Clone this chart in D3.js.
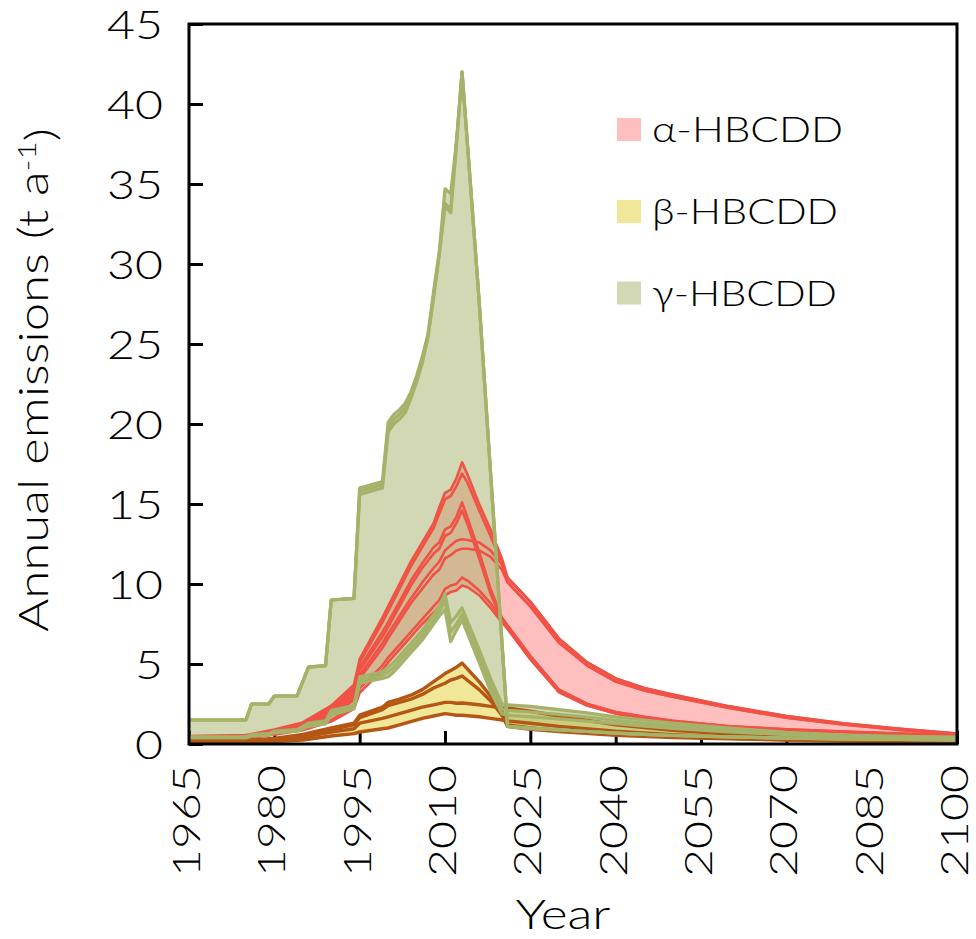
<!DOCTYPE html>
<html>
<head>
<meta charset="utf-8">
<script src="https://cdn.jsdelivr.net/npm/d3@7"></script>
<style>
  html, body { margin: 0; padding: 0; background: #fff; }
  svg { display: block; }
  text { font-family: Lato, "Open Sans", sans-serif; font-weight: 300; fill: #000; }
</style>
</head>
<body>
<svg id="chart" width="976" height="939"></svg>
<script>
// ---------- data ----------
const xTicks = [1965, 1980, 1995, 2010, 2025, 2040, 2055, 2070, 2085, 2100];
const yTicks = [0, 5, 10, 15, 20, 25, 30, 35, 40, 45];
const legendLabels = ["α-HBCDD", "β-HBCDD", "γ-HBCDD"];

// γ-HBCDD
const gYears = [1965,1975,1976,1979,1980,1984,1986,1989,1990,1994,1995,1999,2000,2001,2002,2003,2004,2005,2006,2007,2008,2009,2010,2011,2012,2013,2016,2018,2020,2021,2025,2030,2035,2040,2045,2050,2060,2070,2080,2090,2100];
const gHi1 = [1.5,1.5,2.5,2.5,3.0,3.0,4.8,4.9,9.0,9.1,16.0,16.4,20.1,20.6,20.9,21.3,22.0,23.0,24.2,25.6,28.3,30.8,34.7,34.4,37.6,42.0,27.7,17.0,6.4,1.1,0.98,0.88,0.78,0.68,0.6,0.53,0.45,0.37,0.32,0.28,0.25];
const gHi2 = [1.5,1.5,2.5,2.5,3.0,3.0,4.8,4.9,9.0,9.1,15.8,16.2,19.8,20.3,20.6,21.0,21.8,22.8,24.0,25.5,28.0,30.7,33.8,33.4,37.5,42.0,27.7,17.0,6.4,1.1,0.98,0.88,0.78,0.68,0.6,0.53,0.45,0.37,0.32,0.28,0.25];
const gHi3 = [1.5,1.5,2.5,2.5,3.0,3.0,4.8,4.9,9.0,9.1,15.6,16.0,19.5,20.0,20.3,20.7,21.6,22.6,23.8,25.4,27.9,30.6,33.6,33.2,37.4,42.0,27.7,17.0,6.4,1.1,0.98,0.88,0.78,0.68,0.6,0.53,0.45,0.37,0.32,0.28,0.25];
const gLo1 = [0.45,0.45,0.6,0.65,0.8,0.9,1.3,1.45,2.1,2.4,4.2,4.5,4.8,5.1,5.5,5.9,6.3,6.7,7.1,7.6,8.1,8.6,9.4,7.6,8.0,8.5,5.9,4.1,2.5,2.45,2.35,2.15,1.95,1.7,1.5,1.3,1.0,0.73,0.56,0.48,0.43];
const gLo2 = [0.42,0.42,0.55,0.6,0.75,0.85,1.2,1.35,1.95,2.3,4.0,4.3,4.5,4.8,5.2,5.6,6.0,6.4,6.8,7.3,7.8,8.3,8.9,7.0,7.5,8.1,5.5,3.7,2.2,2.1,2.0,1.85,1.68,1.48,1.3,1.13,0.87,0.65,0.5,0.43,0.38];
const gLo3 = [0.38,0.38,0.5,0.55,0.7,0.8,1.1,1.25,1.8,2.2,3.8,4.1,4.2,4.5,4.9,5.3,5.7,6.1,6.5,7.0,7.5,8.0,8.4,6.4,7.1,7.75,5.1,3.3,1.9,1.8,1.7,1.57,1.43,1.27,1.12,0.98,0.76,0.58,0.45,0.39,0.34];

// α-HBCDD
const rYears = [1965,1975,1980,1985,1990,1994,1995,1999,2000,2002,2004,2006,2008,2009,2010,2011,2012,2013,2014,2016,2018,2020,2021,2025,2030,2035,2040,2045,2050,2060,2070,2080,2090,2100];
const rA1 = [0.5,0.56,0.9,1.35,2.4,3.7,5.3,7.9,8.6,10.0,11.4,12.6,13.8,14.8,15.7,15.9,16.6,17.6,16.8,15.0,13.4,11.6,10.4,8.9,6.6,5.1,4.1,3.5,3.1,2.35,1.75,1.3,0.95,0.66];
const rA2 = [0.45,0.5,0.85,1.25,2.25,3.5,5.1,7.6,8.3,9.7,11.1,12.3,13.5,14.4,15.3,15.5,16.1,16.9,16.3,14.6,13.0,11.3,10.1,8.6,6.35,4.9,3.9,3.35,2.95,2.25,1.65,1.22,0.88,0.6];
const rB1 = [0.42,0.48,0.8,1.2,2.1,3.3,4.8,7.0,7.6,8.9,10.2,11.3,12.3,12.6,13.4,13.6,14.2,15.1,14.1,12.0,9.7,7.9,7.4,5.5,3.4,2.5,2.0,1.7,1.45,1.1,0.92,0.78,0.65,0.55];
const rB2 = [0.38,0.44,0.75,1.1,1.95,3.1,4.6,6.7,7.3,8.6,9.9,11.0,11.9,12.2,13.0,13.2,13.8,14.6,13.7,11.6,9.4,7.7,7.2,5.3,3.25,2.4,1.9,1.6,1.37,1.04,0.87,0.74,0.61,0.51];
const rC1 = [0.36,0.42,0.72,1.05,1.85,2.9,4.3,6.3,6.9,8.0,9.1,10.1,11.0,11.4,12.1,12.4,12.7,12.8,12.75,12.6,12.1,11.2,10.4,8.9,6.6,5.1,4.1,3.5,3.1,2.35,1.75,1.3,0.95,0.66];
const rC2 = [0.34,0.4,0.68,1.0,1.75,2.75,4.1,6.0,6.6,7.7,8.8,9.7,10.6,10.9,11.6,11.8,12.1,12.2,12.2,12.1,11.7,10.9,10.1,8.6,6.35,4.9,3.9,3.35,2.95,2.25,1.65,1.22,0.88,0.6];
const rD1 = [0.32,0.38,0.62,0.92,1.5,2.4,3.5,4.9,5.4,6.2,7.0,7.8,8.6,9.0,9.7,9.9,10.0,10.4,10.2,9.6,8.8,7.8,7.4,5.5,3.4,2.5,2.0,1.7,1.45,1.1,0.92,0.78,0.65,0.55];
const rD2 = [0.3,0.35,0.58,0.86,1.4,2.2,3.2,4.6,5.1,5.9,6.7,7.5,8.2,8.6,9.3,9.5,9.6,9.9,9.8,9.3,8.5,7.6,7.2,5.3,3.25,2.4,1.9,1.6,1.37,1.04,0.87,0.74,0.61,0.51];

// β-HBCDD
const bYears = [1965,1975,1980,1985,1990,1994,1995,1999,2000,2002,2004,2006,2008,2010,2011,2012,2013,2016,2018,2020,2021,2025,2030,2040,2050,2060,2070,2080,2090,2100];
const b1 = [0.2,0.22,0.35,0.6,1.0,1.3,1.8,2.3,2.6,2.8,3.05,3.4,3.9,4.4,4.6,4.8,5.06,3.9,3.0,2.0,1.2,1.0,0.85,0.6,0.45,0.35,0.27,0.21,0.17,0.14];
const b2 = [0.18,0.2,0.32,0.55,0.92,1.2,1.65,2.15,2.4,2.6,2.8,3.1,3.5,3.8,4.0,4.1,4.25,3.4,2.7,1.8,1.1,0.92,0.78,0.55,0.41,0.32,0.25,0.19,0.15,0.12];
const b3 = [0.14,0.15,0.25,0.42,0.75,0.95,1.3,1.6,1.7,1.9,2.1,2.3,2.45,2.6,2.6,2.55,2.56,2.45,2.35,2.25,2.25,2.05,1.75,1.2,0.85,0.62,0.47,0.36,0.28,0.22];
const b4 = [0.1,0.1,0.15,0.25,0.5,0.65,0.75,0.95,1.0,1.2,1.4,1.6,1.75,1.9,1.85,1.8,1.8,1.7,1.6,1.5,1.45,1.3,1.1,0.8,0.58,0.44,0.34,0.26,0.2,0.16];

// ---------- chart ----------
const svg = d3.select("#chart");
const x = d3.scaleLinear().domain([1965, 2100]).range([189, 957]);
const y = d3.scaleLinear().domain([0, 45]).range([744, 24]);

const colors = {
  redLine: "#f05245", pink: "#ffbfbf",
  brownLine: "#b55714", yellow: "#f0e898",
  greenLine: "#a5b269", greenFill: "rgba(165,178,103,0.5)", greenLegend: "#d2d8b3"
};

// axes (ticks inward)
const yAxis = d3.axisLeft(y).tickValues(yTicks).tickSize(-14).tickPadding(26);
const gy = svg.append("g").attr("transform", "translate(189,0)").call(yAxis);
gy.select(".domain").remove();
gy.selectAll(".tick line").attr("stroke", "#000").attr("stroke-width", 3);
gy.selectAll(".tick text").style("font-size", "39px").style("font-family", "Lato").style("font-weight", 300)
  .attr("fill", "#000").attr("dy", "0.36em")
  .attr("textLength", d => String(d).length * 28).attr("lengthAdjust", "spacingAndGlyphs");

const xAxis = d3.axisBottom(x).tickValues(xTicks).tickSize(-13).tickFormat(d3.format("d"));
const gx = svg.append("g").attr("transform", "translate(0,744)").call(xAxis);
gx.select(".domain").remove();
gx.selectAll(".tick line").attr("stroke", "#000").attr("stroke-width", 3);
gx.selectAll(".tick text").style("font-size", "37px").style("font-family", "Lato").style("font-weight", 300)
  .attr("fill", "#000")
  .attr("transform", "rotate(-90)").attr("x", -21).attr("y", 0).attr("dy", "0.28em")
  .style("text-anchor", "end")
  .attr("textLength", 112).attr("lengthAdjust", "spacingAndGlyphs");

// helpers
function band(years, lines) {
  return years.map((yr, i) => ({yr, lo: d3.min(lines, l => l[i]), hi: d3.max(lines, l => l[i])}));
}
const area = d3.area().x(d => x(d.yr)).y0(d => y(d.lo)).y1(d => y(d.hi));
const line = d3.line().x(d => x(d[0])).y(d => y(d[1]));
function pts(years, vals) { return years.map((yr, i) => [yr, vals[i]]); }

const bLines = [b1, b2, b3, b4];
const rLines = [rA1, rA2, rB1, rB2, rC1, rC2, rD1, rD2];
const gLines = [gHi1, gHi2, gHi3, gLo1, gLo2, gLo3];

const plot = svg.append("g");
plot.append("path").datum(band(bYears, bLines)).attr("d", area).attr("fill", colors.yellow);
plot.append("path").datum(band(rYears, rLines)).attr("d", area).attr("fill", colors.pink);
plot.append("path").datum(band(gYears, gLines)).attr("d", area).attr("fill", colors.greenFill);

rLines.forEach(l => plot.append("path").datum(pts(rYears, l)).attr("d", line)
  .attr("fill", "none").attr("stroke", colors.redLine).attr("stroke-width", 2.6).attr("stroke-linejoin", "round"));
bLines.forEach(l => plot.append("path").datum(pts(bYears, l)).attr("d", line)
  .attr("fill", "none").attr("stroke", colors.brownLine).attr("stroke-width", 3.4).attr("stroke-linejoin", "round"));
gLines.forEach(l => plot.append("path").datum(pts(gYears, l)).attr("d", line)
  .attr("fill", "none").attr("stroke", colors.greenLine).attr("stroke-width", 3.2).attr("stroke-linejoin", "round"));

// frame
svg.append("rect").attr("x", 189).attr("y", 24).attr("width", 768).attr("height", 720)
  .attr("fill", "none").attr("stroke", "#000").attr("stroke-width", 3);

// legend
const legendFills = [colors.pink, colors.yellow, colors.greenLegend];
const legendY = [129.5, 211.5, 293];
const legendLen = [191, 186, 185];
const lg = svg.append("g");
legendLabels.forEach((t, i) => {
  lg.append("rect").attr("x", 617).attr("y", legendY[i] - 11.5).attr("width", 24).attr("height", 23)
    .attr("fill", legendFills[i]);
  lg.append("text").attr("x", 652).attr("y", legendY[i]).attr("dy", "0.36em")
    .style("font-size", "36px").attr("textLength", legendLen[i]).attr("lengthAdjust", "spacingAndGlyphs")
    .text(t);
});

// axis titles
svg.append("text").attr("x", 563).attr("y", 929).attr("text-anchor", "middle")
  .style("font-size", "41px").attr("textLength", 95).attr("lengthAdjust", "spacingAndGlyphs").text("Year");

const yt = svg.append("text").attr("transform", "translate(48,380) rotate(-90)")
  .attr("text-anchor", "middle").style("font-size", "42px");
yt.append("tspan").text("Annual emissions (t a");
yt.append("tspan").attr("dy", "-0.45em").style("font-size", "26px").text("-1");
yt.append("tspan").attr("dy", "0.45em").text(")");
// fit title length to the reference (~504px)
const w = yt.node().getBBox().width;
const k = 504 / w;
yt.attr("transform", `translate(48,380) rotate(-90) scale(${k},1)`);
</script>
</body>
</html>
